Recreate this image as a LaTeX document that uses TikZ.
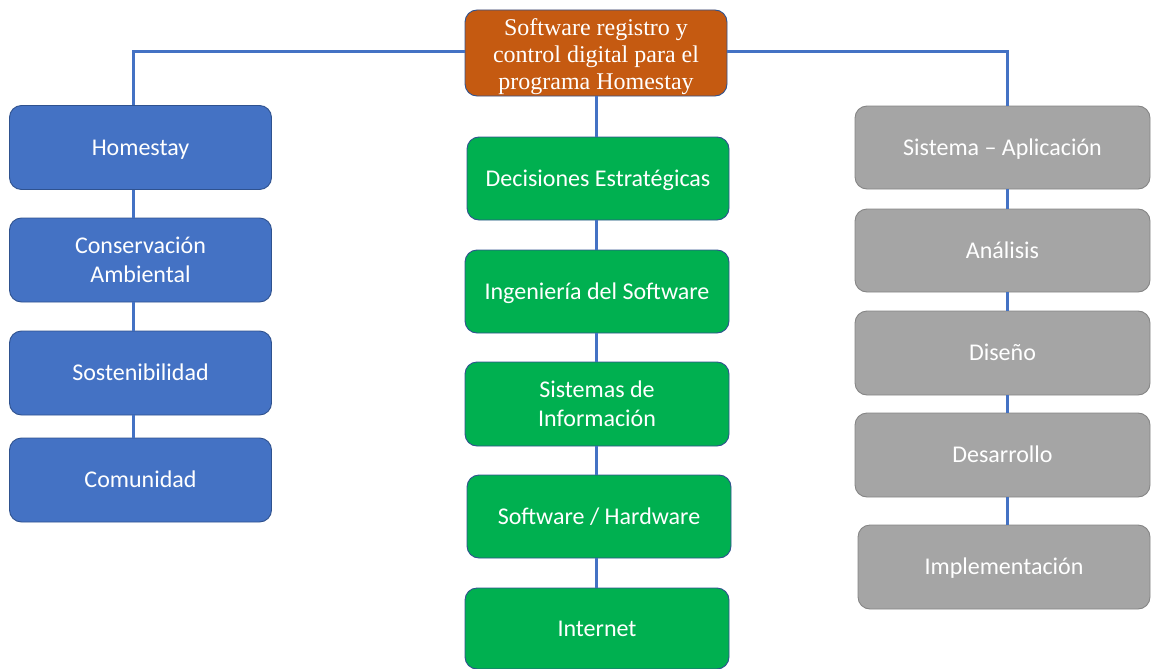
\documentclass[tikz,border=0pt]{standalone}
\usepackage{fontspec}
\setmainfont{Carlito}
\newfontfamily\serifF{Liberation Serif}
\definecolor{cblue}{HTML}{4472C4}
\definecolor{cblueline}{HTML}{2F528F}
\definecolor{cgreen}{HTML}{00B050}
\definecolor{corange}{HTML}{C55A11}
\definecolor{cgray}{HTML}{A5A5A5}
\definecolor{cgrayline}{HTML}{858585}
\tikzset{
  box/.style={rectangle, rounded corners=12pt, line width=0.9pt, text=white, align=center, inner sep=0pt,
    font=\fontsize{24}{29}\selectfont},
  one/.style={text height=20pt, text depth=5pt},
  bluebox/.style={box, fill=cblue, draw=cblueline, minimum width=262pt, minimum height=84pt},
  greenbox/.style={box, fill=cgreen, draw=cblueline, minimum width=264pt, minimum height=83pt},
  graybox/.style={box, fill=cgray, draw=cgrayline, minimum width=295pt, minimum height=83pt},
  topbox/.style={box, fill=corange, draw=cblueline, minimum width=262pt, minimum height=86pt},
  toptext/.style={text=white, align=center, inner sep=0pt, font=\serifF\fontsize{24}{27}\selectfont, yshift=-4pt},
  conn/.style={draw=cblue, line width=3pt}
}
\begin{document}
\begin{tikzpicture}[x=1pt,y=-1pt]
\useasboundingbox (0,0) rectangle (1151,669);
% nodes
\node[topbox, label={[toptext]center:{Software registro y\\control digital para el\\programa Homestay}}] (top) at (596,53) {};
\node[bluebox, one] (h) at (140.5,147.5) {Homestay};
\node[bluebox] (ca) at (140.5,260) {Conservación\\Ambiental};
\node[bluebox, one] (so) at (140.5,373) {Sostenibilidad};
\node[bluebox, one] (co) at (140.5,480) {Comunidad};
\node[greenbox, one, minimum width=262pt] (de) at (598,178.5) {Decisiones Estratégicas};
\node[greenbox, one] (in) at (597,291.5) {Ingeniería del Software};
\node[greenbox, minimum height=84pt] (si) at (597,404) {Sistemas de\\Información};
\node[greenbox, one] (sh) at (599,516.5) {Software / Hardware};
\node[greenbox, one, minimum height=81pt] (it) at (597,628.5) {Internet};
\node[graybox, one] (sa) at (1002.5,147.5) {Sistema – Aplicación};
\node[graybox, one] (an) at (1002.5,250.5) {Análisis};
\node[graybox, one, minimum height=84pt] (di) at (1002.5,353) {Diseño};
\node[graybox, one, minimum height=84pt] (ds) at (1002.5,455) {Desarrollo};
\node[graybox, one, minimum width=292pt, minimum height=84pt] (im) at (1004,567) {Implementación};
\coordinate (lx) at (133,52);
\coordinate (rx) at (1007,52);
\coordinate (cx) at (596,52);
% connectors
\path[conn] (top.west |- lx) -- (lx) -- (h.north -| lx);
\path[conn] (top.east |- rx) -- (rx) -- (sa.north -| rx);
\path[conn] (top.south -| cx) -- (de.north -| cx);
\path[conn] (h.south -| lx) -- (ca.north -| lx);
\path[conn] (ca.south -| lx) -- (so.north -| lx);
\path[conn] (so.south -| lx) -- (co.north -| lx);
\path[conn] (de.south -| cx) -- (in.north -| cx);
\path[conn] (in.south -| cx) -- (si.north -| cx);
\path[conn] (si.south -| cx) -- (sh.north -| cx);
\path[conn] (sh.south -| cx) -- (it.north -| cx);
\path[conn] (sa.south -| rx) -- (an.north -| rx);
\path[conn] (an.south -| rx) -- (di.north -| rx);
\path[conn] (di.south -| rx) -- (ds.north -| rx);
\path[conn] (ds.south -| rx) -- (im.north -| rx);
\end{tikzpicture}
\end{document}
